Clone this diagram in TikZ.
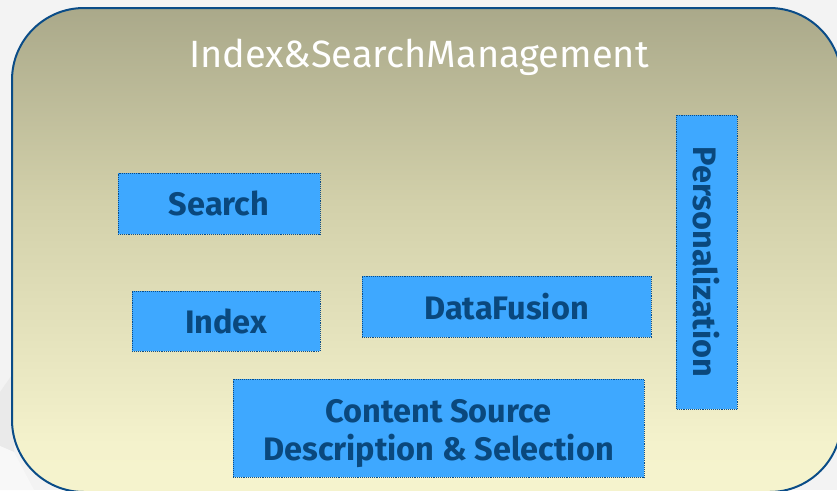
\documentclass[tikz,border=0pt]{standalone}
\usepackage{fontspec}
\setmainfont{Fira Sans}
\definecolor{pagebg}{RGB}{243,243,243}
\definecolor{facetgray}{RGB}{234,234,234}
\definecolor{facetlight}{RGB}{248,248,248}
\definecolor{frameblue}{RGB}{10,76,135}
\definecolor{boxfill}{RGB}{62,168,255}
\definecolor{boxtext}{RGB}{10,72,125}
\definecolor{shA}{RGB}{136,136,114}
\definecolor{shB}{RGB}{160,159,130}
\definecolor{shC}{RGB}{210,208,170}
\definecolor{shD}{RGB}{244,242,204}
\definecolor{shE}{RGB}{253,251,212}
\pgfdeclareverticalshading{panelshade}{100bp}{%
  color(0bp)=(shE); color(30bp)=(shD); color(55bp)=(shC); color(80bp)=(shB); color(100bp)=(shA)}
\tikzset{
  module/.style={draw=frameblue, densely dotted, line width=0.9pt, fill=boxfill,
    text=boxtext, font=\bfseries\fontsize{32.5}{38}\selectfont, inner sep=0pt, align=center},
}
\begin{document}
\begin{tikzpicture}[x=1pt,y=-1pt]
  % page
  \fill[pagebg] (0,0) rectangle (837,490);
  \useasboundingbox (0,0) rectangle (837,490);
  % faint facets of the backdrop
  \fill[facetgray] (0,392) -- (14,372) -- (14,452) -- (0,446) -- cycle;
  \fill[facetlight] (0,446) -- (14,452) -- (34,490) -- (0,490) -- cycle;
  % outer panel
  \path[rounded corners=72pt, shading=panelshade, draw=frameblue, line width=2pt]
    (12,8) rectangle (841.5,492);
  % title
  \node[text=white, font=\fontsize{38}{42}\selectfont, anchor=base] (title) at (419,67) {Index\&SearchManagement};
  % modules
  \node[module, minimum width=202pt, minimum height=61pt] (search) at (219,203.5) {Search};
  \node[module, minimum width=188pt, minimum height=60pt] (index) at (226,321) {Index};
  \node[module, minimum width=289pt, minimum height=61pt] (fusion) at (506.5,306.5) {DataFusion};
  \node[module, minimum width=411pt, minimum height=98pt] (csds) at (438.5,428)
    {\rule{0pt}{34pt}Content Source\\Description \& Selection};
  \node[module, minimum width=294pt, minimum height=61pt, rotate=-90] (pers) at (706.5,262) {Personalization};
\end{tikzpicture}
\end{document}
